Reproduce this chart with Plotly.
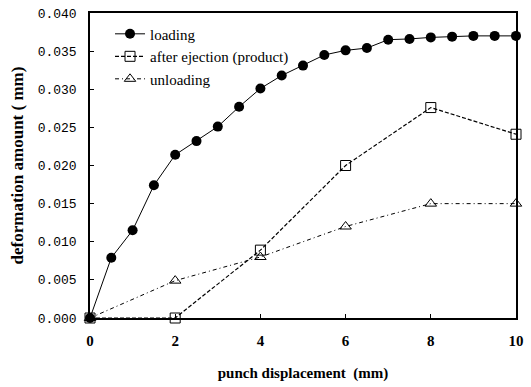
import plotly.graph_objects as go

loading_x = [0, 0.5, 1, 1.5, 2, 2.5, 3, 3.5, 4, 4.5, 5, 5.5, 6, 6.5, 7, 7.5, 8, 8.5, 9, 9.5, 10]
loading_y = [0.0, 0.0079, 0.0115, 0.0174, 0.0214, 0.0232, 0.0251, 0.0277, 0.0301, 0.0318, 0.0331,
             0.0345, 0.0351, 0.0354, 0.0365, 0.0366, 0.0368, 0.0369, 0.0370, 0.0370, 0.0370]
eject_x = [0, 2, 4, 6, 8, 10]
eject_y = [0.0, 0.0, 0.0089, 0.0200, 0.0276, 0.0241]
unload_x = [0, 2, 4, 6, 8, 10]
unload_y = [0.0, 0.0049, 0.0080, 0.0120, 0.0150, 0.0150]
x_ticks = [0, 2, 4, 6, 8, 10]
y_ticks = [0.000, 0.005, 0.010, 0.015, 0.020, 0.025, 0.030, 0.035, 0.040]

serif = "Liberation Serif"
fig = go.Figure()
fig.add_trace(go.Scatter(x=loading_x, y=loading_y, name="loading", mode="lines+markers",
                         line=dict(color="black", width=1),
                         marker=dict(symbol="circle", size=10, color="black"), cliponaxis=False))
fig.add_trace(go.Scatter(x=eject_x, y=eject_y, name="after ejection (product)", mode="lines+markers",
                         line=dict(color="black", width=1.2, dash="4px,2px"),
                         marker=dict(symbol="square-open", size=10, color="black", line=dict(width=1)),
                         cliponaxis=False))
fig.add_trace(go.Scatter(x=unload_x, y=unload_y, name="unloading", mode="lines+markers",
                         line=dict(color="black", width=1, dash="4px,3px,1px,3px"),
                         marker=dict(symbol="triangle-up-open", size=10, color="black", line=dict(width=1)),
                         cliponaxis=False))

fig.update_layout(
    width=531, height=387,
    margin=dict(l=90, r=14, t=7, b=69),
    paper_bgcolor="white", plot_bgcolor="white",
    showlegend=True,
    legend=dict(x=0.047, y=0.985, xanchor="left", yanchor="top",
                font=dict(family=serif, size=15, color="black"),
                bgcolor="rgba(0,0,0,0)", tracegroupgap=0, itemwidth=30),
    xaxis=dict(range=[0, 10], tickvals=x_ticks, ticktext=[str(v) for v in x_ticks],
               showline=True, linecolor="black", linewidth=1.5, mirror=True,
               ticks="inside", ticklen=4, tickcolor="black", showgrid=False, zeroline=False,
               ticklabelstandoff=8,
               tickfont=dict(family=serif, size=15, color="black", weight="bold"),
               title=dict(text="punch displacement  (mm)", standoff=20,
                          font=dict(family=serif, size=15, color="black", weight="bold"))),
    yaxis=dict(range=[0, 0.040], tickvals=y_ticks, ticktext=[f"{v:.3f}" for v in y_ticks],
               showline=True, linecolor="black", linewidth=1.5, mirror=True,
               ticks="inside", ticklen=4, tickcolor="black", showgrid=False, zeroline=False,
               ticklabelstandoff=9,
               tickfont=dict(family="Liberation Mono", size=13, color="black"),
               title=dict(text="deformation amount ( mm)", standoff=10,
                          font=dict(family=serif, size=17, color="black", weight="bold"))),
)
fig.write_html("out.html")
